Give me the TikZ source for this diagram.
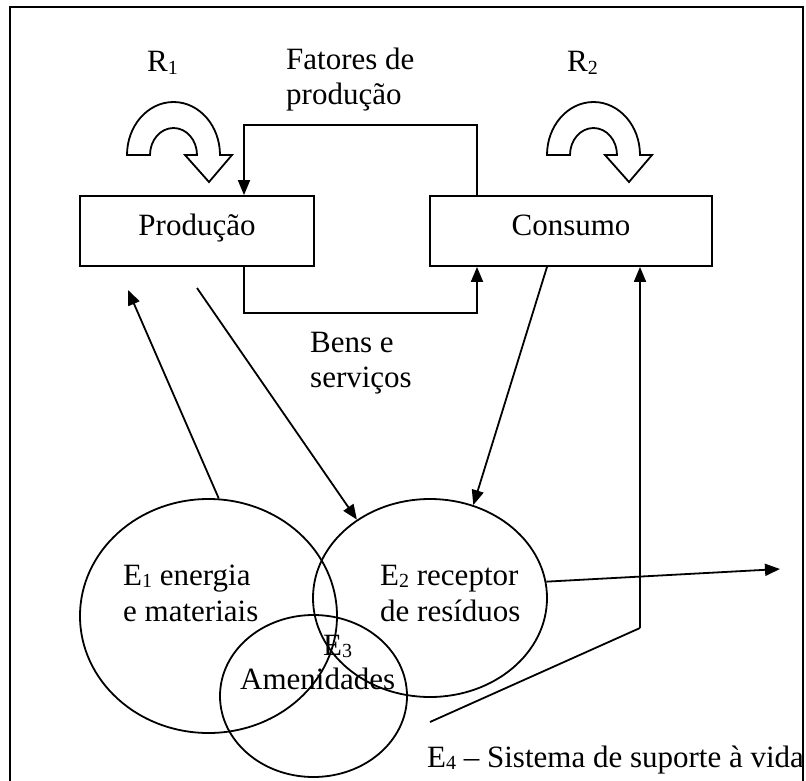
\documentclass[tikz,border=0pt]{standalone}
\usepackage{fontspec}
\setmainfont{Liberation Serif}
\usetikzlibrary{shapes.geometric,arrows.meta}
\newcommand\mysub[1]{\raisebox{-0.07em}{\fontsize{20}{20}\selectfont #1}}
\begin{document}
\begin{tikzpicture}[x=1pt,y=-1pt,
  every node/.style={font=\fontsize{31}{36}\selectfont, inner sep=0pt},
  lbl/.style={anchor=base west},
  box/.style={draw, line width=1.8pt, minimum width=#1, minimum height=70pt, text height=20pt, text depth=12pt},
  ell/.style={draw, ellipse, line width=1.8pt},
  ln/.style={line width=1.8pt},
  arr/.style={line width=1.8pt, -{Triangle[length=15pt,width=12pt]}},
  curv/.style={draw, line width=1.8pt, line join=miter}]
\useasboundingbox (0,0) rectangle (806,781);
% frame
\draw[line width=2pt] (10,781) -- (10,7) -- (803,7) -- (803,781);
% boxes
\node[box=234pt] (prod) at (197,231) {Produção};
\node[box=282pt] (cons) at (571,231) {Consumo};
% ellipses
\node[ell, minimum width=257pt, minimum height=234pt] (e1) at (208.5,616) {};
\node[ell, minimum width=234pt, minimum height=198pt] (e2) at (430,598) {};
\node[ell, minimum width=187pt, minimum height=162pt] (e3) at (313.5,696) {};
% curved arrows R1, R2
\path[curv] (127,155) arc[start angle=180,end angle=360,x radius=46.5,y radius=53] -- (232,155) -- (209,182) -- (185,155) -- (197,155) arc[start angle=0,end angle=-180,x radius=23.5,y radius=27] -- cycle;
\path[curv] (547,155) arc[start angle=180,end angle=360,x radius=46.5,y radius=53] -- (652,155) -- (629,182) -- (605,155) -- (617,155) arc[start angle=0,end angle=-180,x radius=23.5,y radius=27] -- cycle;
% labels
\node[lbl] (r1) at (147,72) {R\mysub{1}};
\node[lbl] (r2) at (567,72) {R\mysub{2}};
\node[lbl] (fa) at (286,70) {Fatores de};
\node[lbl] (fb) at (286,105) {produção};
\node[lbl] (ba) at (310,352) {Bens e};
\node[lbl] (bb) at (310,387) {serviços};
\node[lbl] (t1a) at (123,585) {E\mysub{1} energia};
\node[lbl] (t1b) at (123,621) {e materiais};
\node[lbl] (t2a) at (380,585) {E\mysub{2} receptor};
\node[lbl] (t2b) at (380,621) {de resíduos};
\node[lbl] (t3a) at (323,655) {E\mysub{3}};
\node[lbl] (t3b) at (240,689) {Amenidades};
\node[lbl] (t4) at (427,767) {E\mysub{4} – Sistema de suporte à vida};
% connectors
\coordinate (f1) at (477,125);
\coordinate (f2) at (244,125);
\draw[arr] (f1 |- cons.north) -- (f1) -- (f2) -- (f2 |- prod.north);
\coordinate (b1) at (244,313);
\coordinate (b2) at (477,313);
\draw[arr] (b1 |- prod.south) -- (b1) -- (b2) -- (b2 |- cons.south);
\coordinate (p1) at (128,290);
\draw[arr] (e1.85) -- (p1);
\coordinate (p2) at (197,288);
\draw[arr] (p2) -- (e2.133);
\draw[arr] ([xshift=-24pt]cons.south) -- (e2.65);
\coordinate (v1) at (640,628);
\coordinate (v2) at (430,722);
\draw[arr] (v1) -- (v1 |- cons.south);
\draw[ln] (v1) -- (v2);
\coordinate (out) at (780,569);
\draw[arr] (e2.8) -- (out);
\end{tikzpicture}
\end{document}
